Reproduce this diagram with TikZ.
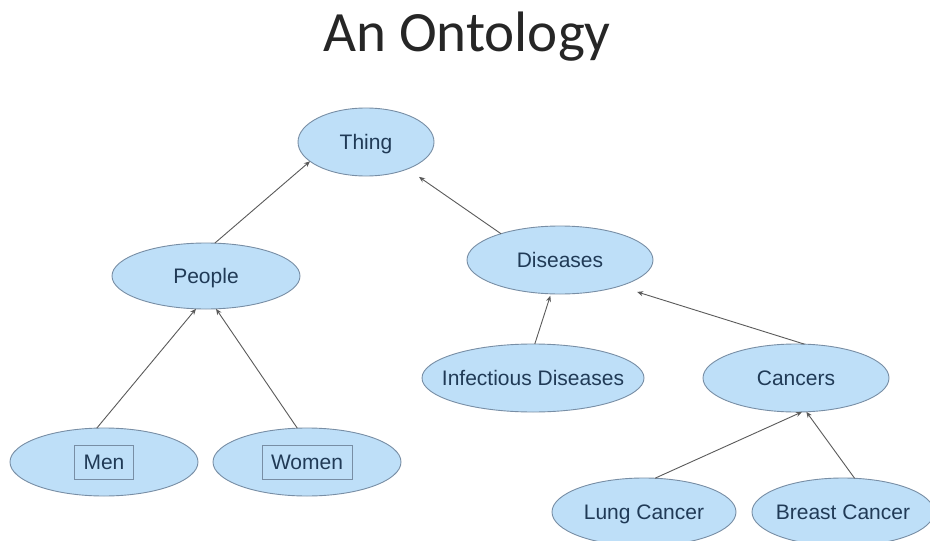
\documentclass[tikz,border=0pt]{standalone}
\usepackage{fontspec}
\setmainfont{Liberation Sans}
\newfontfamily\titlefont{Carlito}
\usetikzlibrary{shapes.geometric,arrows.meta}
\definecolor{efill}{RGB}{190,223,248}
\definecolor{edraw}{RGB}{120,142,165}
\definecolor{etext}{RGB}{32,58,86}
\definecolor{link}{RGB}{90,90,90}
\begin{document}
\begin{tikzpicture}[x=1pt,y=-1pt,
  concept/.style={ellipse, fill=efill, draw=edraw, line width=0.9pt, inner sep=0pt, outer sep=0pt},
  ctext/.style={font=\fontsize{21}{21}\selectfont, text=etext, text height=15pt, text depth=0pt},
  boxed/.style={ctext, draw=edraw, line width=0.7pt, minimum height=34pt, inner xsep=9pt},
  isa/.style={draw=link, line width=0.9pt, -{Stealth[length=6pt,width=5pt]}}]
\useasboundingbox (0,0) rectangle (930,541);
\clip (0,0) rectangle (930,541);
\fill[white] (0,0) rectangle (930,541);

\node[font=\titlefont\fontsize{57}{57}\selectfont, text=black!85, anchor=base] (title) at (467,51) {An Ontology};

\node[concept, minimum width=136pt, minimum height=68pt, label={[ctext,name=thingt]center:Thing}] (thing) at (366,142) {};
\node[concept, minimum width=188pt, minimum height=66pt, label={[ctext,name=peoplet]center:People}] (people) at (206,276) {};
\node[concept, minimum width=186pt, minimum height=68pt, label={[ctext,name=diseasest]center:Diseases}] (diseases) at (560,260) {};
\node[concept, minimum width=188pt, minimum height=68pt, label={[boxed,name=ment]center:Men}] (men) at (104,462) {};
\node[concept, minimum width=188pt, minimum height=68pt, label={[boxed,name=woment]center:Women}] (women) at (307,462) {};
\node[concept, minimum width=222pt, minimum height=68pt, label={[ctext,name=infectt]center:Infectious Diseases}] (infect) at (533,378) {};
\node[concept, minimum width=186pt, minimum height=68pt, label={[ctext,name=cancerst]center:Cancers}] (cancers) at (796,378) {};
\node[concept, minimum width=184pt, minimum height=68pt, label={[ctext,name=lungt]center:Lung Cancer}] (lung) at (644,512) {};
\node[concept, minimum width=182pt, minimum height=68pt, label={[ctext,name=breastt]center:Breast Cancer}] (breast) at (843,512) {};

\draw[isa] (men.102) -- (people.253);
\draw[isa] (women.106) -- (people.-73);
\draw[isa] (people.75) -- (thing.199);
\draw[isa, shorten >=14pt] (diseases.156) -- (thing.-33);
\draw[isa, shorten >=2pt] (infect.87) -- (diseases.-105);
\draw[isa, shorten >=19pt] (cancers.76) -- (diseases.-24);
\draw[isa] (lung.72) -- (cancers.-80);
\draw[isa] (breast.71) -- (cancers.-73);
\end{tikzpicture}
\end{document}
